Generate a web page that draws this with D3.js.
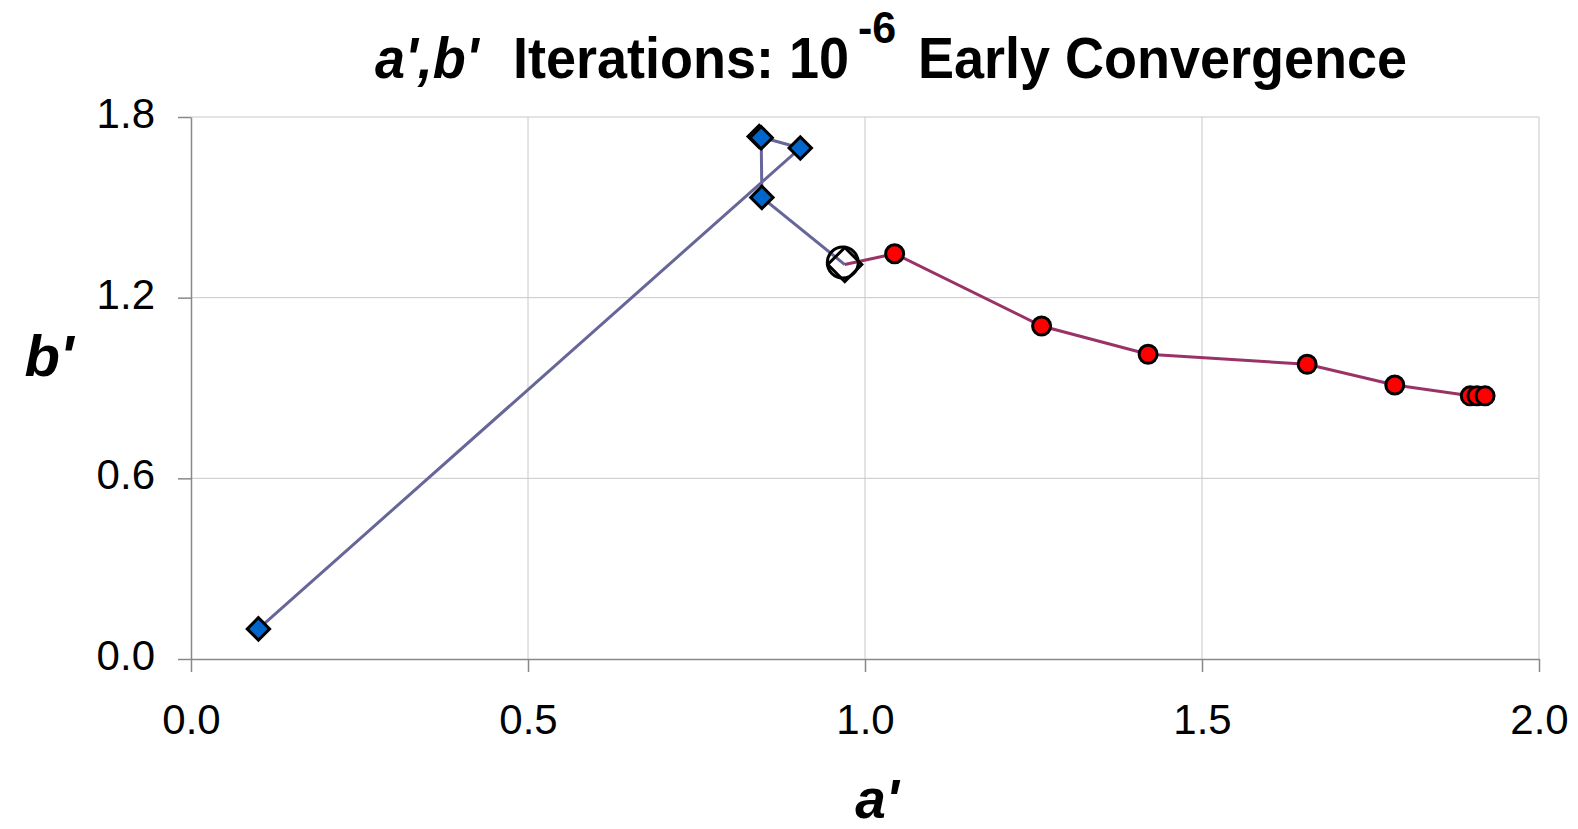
<!DOCTYPE html>
<html lang="en">
<head>
  <meta charset="UTF-8">
  <title>a',b' Iterations</title>
  <script src="https://cdn.jsdelivr.net/npm/d3@7/dist/d3.min.js"></script>
  <style>
    body { margin: 0; background: #fff; }
    svg { display: block; font-family: "Liberation Sans", Arial, sans-serif; }
  </style>
</head>
<body>
<svg id="chart"></svg>
<script>
  // iteration path, first phase (blue diamonds)
  const blueA = [0.10, 0.904, 0.843, 0.846, 0.847, 0.970]
  const blueB = [0.10, 1.697, 1.735, 1.731, 1.533, 1.310]
  // second phase (red circles), starts at the open marker
  const redA = [0.970, 1.044, 1.262, 1.420, 1.656, 1.786, 1.898, 1.908, 1.920]
  const redB = [1.310, 1.346, 1.106, 1.012, 0.979, 0.910, 0.874, 0.874, 0.874]
  // point where convergence switched
  const switchPt = [0.970, 1.310]

  const xTicks = [0, 0.5, 1.0, 1.5, 2.0]
  const yTicks = [0, 0.6, 1.2, 1.8]

  const width = 1578, height = 829
  const pLeft = 191, pRight = 1539, pTop = 117, pBottom = 659

  const svg = d3.select("#chart").attr("width", width).attr("height", height)

  const x = d3.scaleLinear().domain([0, 2]).range([pLeft, pRight])
  const y = d3.scaleLinear().domain([0, 1.8]).range([pBottom, pTop])

  // grid
  svg.append("g").selectAll("line").data(xTicks.slice(1)).join("line")
    .attr("x1", d => x(d)).attr("x2", d => x(d))
    .attr("y1", pTop).attr("y2", pBottom)
    .attr("stroke", "#c8c8c8").attr("stroke-width", 1)
  svg.append("g").selectAll("line").data(yTicks.slice(1)).join("line")
    .attr("x1", pLeft).attr("x2", pRight)
    .attr("y1", d => y(d)).attr("y2", d => y(d))
    .attr("stroke", "#c8c8c8").attr("stroke-width", 1)

  // axes
  const xAxis = svg.append("g").attr("transform", `translate(0,${pBottom})`)
    .call(d3.axisBottom(x).tickValues(xTicks).tickFormat(d3.format(".1f")).tickSize(13).tickSizeOuter(0).tickPadding(32))
  const yAxis = svg.append("g").attr("transform", `translate(${pLeft},0)`)
    .call(d3.axisLeft(y).tickValues(yTicks).tickFormat(d3.format(".1f")).tickSize(13).tickSizeOuter(0).tickPadding(23))
  for (const g of [xAxis, yAxis]) {
    g.select(".domain").attr("stroke", "#888").attr("stroke-width", 1.5)
    g.selectAll(".tick line").attr("stroke", "#888").attr("stroke-width", 1.5)
    g.selectAll(".tick text").attr("fill", "#000").style("font-size", "42px").style("font-family", "Liberation Sans, Arial, sans-serif")
  }
  yAxis.selectAll(".tick text").attr("dy", "0.25em")

  // lines
  const line = d3.line().x(d => x(d[0])).y(d => y(d[1]))
  svg.append("path").datum(d3.zip(blueA, blueB)).attr("d", line)
    .attr("fill", "none").attr("stroke", "#666699").attr("stroke-width", 3)
  svg.append("path").datum(d3.zip(redA, redB)).attr("d", line)
    .attr("fill", "none").attr("stroke", "#993366").attr("stroke-width", 3)

  // markers
  const diamond = d3.symbol().type(d3.symbolSquare).size(250)
  svg.append("g").selectAll("path").data(d3.zip(blueA, blueB).slice(0, 5)).join("path")
    .attr("d", diamond)
    .attr("transform", d => `translate(${x(d[0])},${y(d[1])}) rotate(45)`)
    .attr("fill", "#0066cc").attr("stroke", "#000").attr("stroke-width", 3)

  svg.append("g").selectAll("circle").data(d3.zip(redA, redB).slice(1)).join("circle")
    .attr("cx", d => x(d[0])).attr("cy", d => y(d[1])).attr("r", 9)
    .attr("fill", "#ff0000").attr("stroke", "#000").attr("stroke-width", 3)

  // open marker at switch point
  svg.append("circle")
    .attr("cx", x(switchPt[0]) - 2).attr("cy", y(switchPt[1]) - 2).attr("r", 15.5)
    .attr("fill", "none").attr("stroke", "#000").attr("stroke-width", 3)
  svg.append("path")
    .attr("d", d3.symbol().type(d3.symbolSquare).size(580))
    .attr("transform", `translate(${x(switchPt[0])},${y(switchPt[1])}) rotate(45)`)
    .attr("fill", "none").attr("stroke", "#000").attr("stroke-width", 3)

  // title
  const title = svg.append("text").attr("transform", "translate(0,78) scale(1,1.05)")
    .style("font-size", "54px").style("font-weight", "bold")
  title.append("tspan").attr("x", 375).style("font-style", "italic").text("a',b'")
  title.append("tspan").attr("x", 513).text("Iterations: 10")
  title.append("tspan").attr("x", 858).attr("y", -33).style("font-size", "43px").text("-6")
  title.append("tspan").attr("x", 918).attr("y", 0).text("Early Convergence")

  // axis titles
  svg.append("text").attr("x", 877).attr("y", 818).attr("text-anchor", "middle")
    .style("font-size", "55px").style("font-weight", "bold").style("font-style", "italic").text("a'")
  svg.append("text").attr("x", 49).attr("y", 376).attr("text-anchor", "middle")
    .style("font-size", "58px").style("font-weight", "bold").style("font-style", "italic").text("b'")
</script>
</body>
</html>
